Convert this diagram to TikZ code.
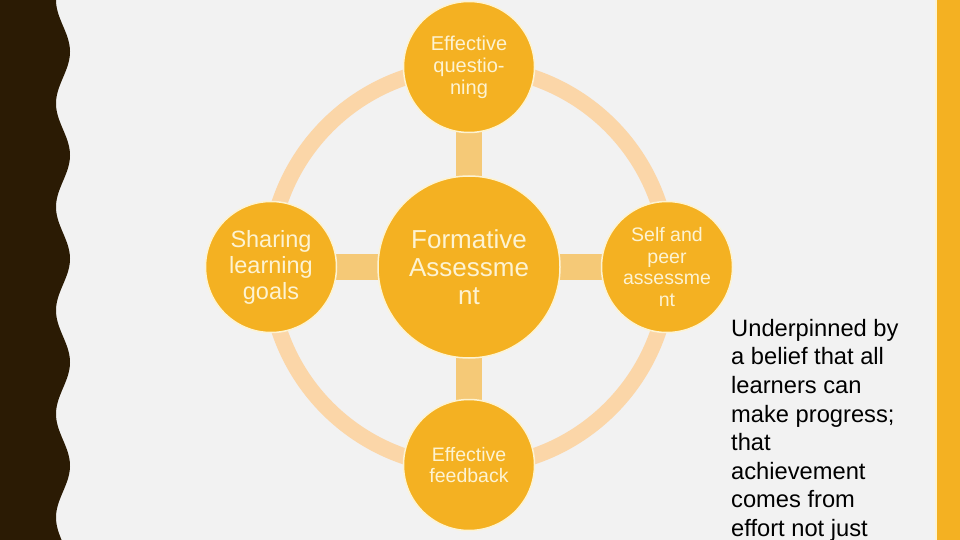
\documentclass[tikz,border=0pt]{standalone}
\usepackage{fontspec}
\setmainfont{Liberation Sans}
\usepackage{xcolor}
\usepackage{tikz}
\usetikzlibrary{positioning,backgrounds}

\definecolor{paper}{HTML}{F2F2F2}
\definecolor{darkband}{HTML}{2B1B04}
\definecolor{goldfill}{HTML}{F4B122}
\definecolor{creamline}{HTML}{FDF3D2}
\definecolor{ringpeach}{HTML}{FBD6A8}
\definecolor{barpeach}{HTML}{F5C977}

\begin{document}
\begin{tikzpicture}[
  x=1pt, y=-1pt,
  hub/.style={circle, fill=goldfill, draw=creamline, line width=1.5pt, inner sep=0pt,
    align=center, text=creamline},
  bigdisc/.style={hub, minimum size=182pt, font=\fontsize{26}{28}\selectfont},
  smalldisc/.style={hub, minimum size=131pt},
  ring/.style={draw=ringpeach, line width=16pt},
  bar/.style={draw=barpeach, line width=26pt}
]
\useasboundingbox (0,0) rectangle (960,540);

% centre and the four satellites
\node[bigdisc] (fa) at (469,267) {Formative\\Assessme\\nt};
\node[smalldisc, font=\fontsize{20}{22}\selectfont] (eq) at (469,67) {Effective\\questio-\\ning};
\node[smalldisc, font=\fontsize{23.5}{26}\selectfont] (slg) at (271,267) {Sharing\\learning\\goals};
\node[smalldisc, font=\fontsize{19.5}{21.5}\selectfont] (spa) at (667,267) {Self and\\peer\\assessme\\nt};
\node[smalldisc, font=\fontsize{19.5}{21.5}\selectfont] (fb) at (469,465) {Effective\\feedback};

% side note, cut off by the page edge
\node[anchor=north west, inner sep=0pt, align=left, text=black,
  font=\fontsize{23.7}{28.6}\selectfont] (belief) at (731,319)
  {Underpinned by\\a belief that all\\learners can\\make progress;\\that\\achievement\\comes from\\effort not just};

% everything behind the discs: page, side bands, ring and bars
\begin{scope}[on background layer]
  \fill[paper] (0,0) rectangle (960,540);
  \fill[darkband] (0,0) -- plot[domain=0:540, samples=220] ({63-7*cos(3.4783*\x)},\x)
    -- (0,540) -- cycle;
  \fill[creamline] (935,0) rectangle (937,540);
  \fill[goldfill] (937,0) rectangle (960,540);
  \draw[ring] (fa.center) circle (200pt);
  \draw[bar] (fa.center) -- (eq.center);
  \draw[bar] (fa.center) -- (fb.center);
  \draw[bar] (fa.center) -- (slg.center);
  \draw[bar] (fa.center) -- (spa.center);
\end{scope}
\end{tikzpicture}
\end{document}
